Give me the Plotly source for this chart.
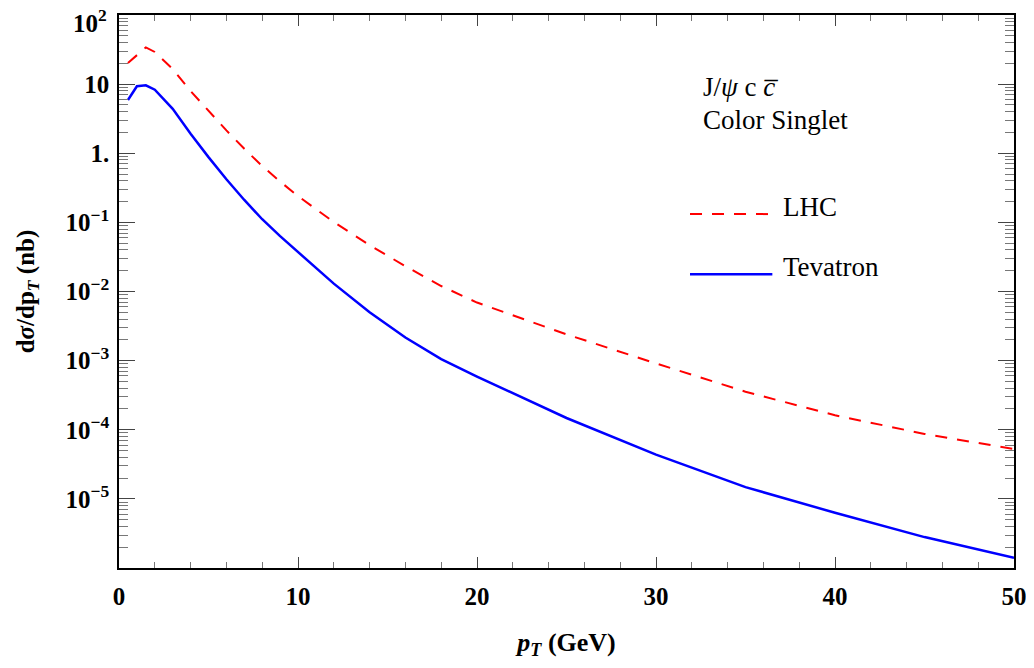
import plotly.graph_objects as go

# ---- data ----
pt = [0.5, 1, 1.5, 2, 3, 4, 5, 6, 7, 8, 9, 10, 12, 14, 16, 18, 20, 25, 30, 35, 40, 45, 50]
lhc = [20.2, 26.3, 34.0, 29.2, 16.5, 7.94, 4.07, 2.14, 1.16, 0.653, 0.389, 0.240, 0.101,
       0.0468, 0.0232, 0.0120, 0.00692, 0.00240, 0.000912, 0.000355, 0.000162, 0.0000871, 0.0000525]
tev = [5.9, 9.3, 9.6, 8.3, 4.4, 1.92, 0.879, 0.421, 0.211, 0.111, 0.0631, 0.0372, 0.0130,
       0.00501, 0.00216, 0.00105, 0.000589, 0.000148, 0.0000437, 0.0000148, 0.0000063,
       0.0000028, 0.0000014]

y_tickvals = [1e-5, 1e-4, 1e-3, 1e-2, 1e-1, 1, 10, 100]
y_ticktext = ["10<sup>\u22125</sup>", "10<sup>\u22124</sup>", "10<sup>\u22123</sup>",
              "10<sup>\u22122</sup>", "10<sup>\u22121</sup>", "1.", "10", "10<sup>2</sup>"]
x_tickvals = [0, 10, 20, 30, 40, 50]

series_names = ["LHC", "Tevatron"]

FONT = "Liberation Serif, Times New Roman, serif"

minor_y = [k * 10.0 ** e for e in range(-6, 2) for k in range(2, 10)]

fig = go.Figure()
fig.add_trace(go.Scatter(x=pt, y=lhc, mode="lines", name=series_names[0],
                         line=dict(color="#ff0000", width=2, dash="12px,10px")))
fig.add_trace(go.Scatter(x=pt, y=tev, mode="lines", name=series_names[1],
                         line=dict(color="#0000ff", width=2.5)))

# page body has an 8px margin: size/margins compensate so the frame lands where the reference has it
fig.update_layout(
    width=1018, height=652, autosize=False,
    margin=dict(l=111, r=12, t=7, b=92),
    paper_bgcolor="white", plot_bgcolor="white",
    showlegend=False,
    font=dict(family=FONT, color="black", size=24),
)

fig.update_xaxes(
    range=[0, 50], tickmode="array", tickvals=x_tickvals,
    ticktext=["<b>%d</b>" % v for v in x_tickvals],
    ticks="inside", ticklen=11, tickwidth=1.2, tickcolor="#444",
    minor=dict(dtick=2, ticks="inside", ticklen=6, tickwidth=1.2, tickcolor="#777", showgrid=False),
    showline=True, linecolor="black", linewidth=1.5, mirror="ticks",
    showgrid=False, zeroline=False, ticklabeloverflow="allow", automargin=False,
    ticklabelstandoff=5,
    tickfont=dict(family=FONT, size=25, color="black"),
    title=dict(text="<b><i>p</i><sub><i>T</i></sub> (GeV)</b>", font=dict(family=FONT, size=26), standoff=31),
)
# the top label (10^2) sits against the page edge; it is drawn as an annotation
# so that its exponent stays visible
top_label = y_ticktext[-1]
fig.update_yaxes(
    type="log", range=[-6, 2], tickmode="array", tickvals=y_tickvals,
    ticktext=["<b>%s</b>" % t for t in y_ticktext[:-1]] + [""],
    ticks="inside", ticklen=16, tickwidth=1.2, tickcolor="#444",
    minor=dict(tickmode="array", tickvals=minor_y, ticks="inside", ticklen=9, tickwidth=1.2,
               tickcolor="#777", showgrid=False),
    showline=True, linecolor="black", linewidth=1.5, mirror="ticks",
    showgrid=False, zeroline=False, ticklabeloverflow="allow", ticklabelstandoff=3, automargin=False,
    tickfont=dict(family=FONT, size=25, color="black"),
    title=dict(text="<b>d<i>\u03c3</i>/dp<sub><i>T</i></sub> (nb)</b>", font=dict(family=FONT, size=25), standoff=24),
)
fig.add_annotation(xref="paper", yref="paper", x=-0.0123, y=1.0199, text="<b>%s</b>" % top_label,
                   showarrow=False, xanchor="right", yanchor="top", borderpad=0,
                   font=dict(family=FONT, size=25, color="black"))

# legend samples and text annotations
fig.add_shape(type="line", xref="paper", yref="paper", x0=0.638, x1=0.730, y0=0.640, y1=0.640,
              line=dict(color="#ff0000", width=2, dash="12px,10px"))
fig.add_shape(type="line", xref="paper", yref="paper", x0=0.638, x1=0.730, y0=0.531, y1=0.531,
              line=dict(color="#0000ff", width=2.5))
fig.add_annotation(xref="paper", yref="paper", x=0.740, y=0.653, text=series_names[0],
                   showarrow=False, xanchor="left", yanchor="middle", font=dict(family=FONT, size=27))
fig.add_annotation(xref="paper", yref="paper", x=0.740, y=0.544, text=series_names[1],
                   showarrow=False, xanchor="left", yanchor="middle", font=dict(family=FONT, size=27))
fig.add_annotation(xref="paper", yref="paper", x=0.650, y=0.870,
                   text="J/<i>\u03c8</i> c <i>c\u0305</i>",
                   showarrow=False, xanchor="left", yanchor="middle", font=dict(family=FONT, size=27))
fig.add_annotation(xref="paper", yref="paper", x=0.650, y=0.811, text="Color Singlet",
                   showarrow=False, xanchor="left", yanchor="middle", font=dict(family=FONT, size=27))

fig.write_html("out.html")
